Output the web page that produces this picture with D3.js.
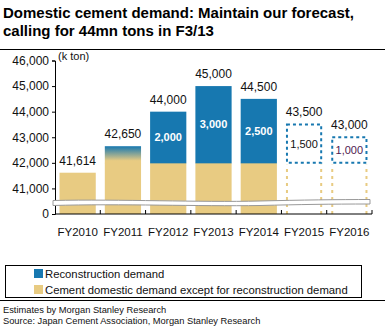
<!DOCTYPE html>
<html>
<head>
<meta charset="utf-8">
<script src="https://cdn.jsdelivr.net/npm/d3@7"></script>
<style>
  body { margin: 0; background: #fff; }
  svg { font-family: "Liberation Sans", Arial, sans-serif; }
</style>
</head>
<body>
<div id="container"></div>
<script>
/* DATA */
const years = ["FY2010", "FY2011", "FY2012", "FY2013", "FY2014", "FY2015", "FY2016"]
const baseDemand = [41614, 42000, 42000, 42000, 42000, 42000, 42000]
const reconDemand = [0, 650, 2000, 3000, 2500, 1500, 1000]
const totals = [41614, 42650, 44000, 45000, 44500, 43500, 43000]
const forecast = [false, false, false, false, false, true, true]
const yTicks = [40000, 41000, 42000, 43000, 44000, 45000, 46000]
const tickLabels = ["0", "41,000", "42,000", "43,000", "44,000", "45,000", "46,000"]

/* CONSTANTS */
const width = 385, height = 328
const blue = "#1778b0", tan = "#e8cb82"

const svg = d3.select("#container").append("svg")
  .attr("width", width).attr("height", height)

// title
svg.append("text").attr("x", 3).attr("y", 18)
  .attr("font-size", 15).attr("font-weight", "bold").attr("fill", "#000")
  .text("Domestic cement demand: Maintain our forecast,")
svg.append("text").attr("x", 3).attr("y", 36)
  .attr("font-size", 15).attr("font-weight", "bold").attr("fill", "#000")
  .text("calling for 44mn tons in F3/13")
svg.append("line").attr("x1", 0).attr("x2", width).attr("y1", 49.5).attr("y2", 49.5)
  .attr("stroke", "#000").attr("stroke-width", 1.2)

// SCALES
const xScale = d3.scaleBand().domain(years).range([55, 372]).paddingInner(0.2).paddingOuter(0.1)
const yScale = d3.scaleLinear().domain([40000, 46000]).range([214, 60.5])

// gradient for FY2011
const defs = svg.append("defs")
const grad = defs.append("linearGradient").attr("id", "fade").attr("x1", 0).attr("x2", 0).attr("y1", 0).attr("y2", 1)
grad.append("stop").attr("offset", "0%").attr("stop-color", blue)
grad.append("stop").attr("offset", "85%").attr("stop-color", tan)

const rows = years.map((y, i) => ({ year: y, base: baseDemand[i], recon: reconDemand[i], total: totals[i], fc: forecast[i] }))
const bw = xScale.bandwidth()

// actual bars
const actual = rows.filter(d => !d.fc)
svg.selectAll("rect.base").data(actual).join("rect")
  .attr("class", "base")
  .attr("x", d => xScale(d.year)).attr("width", bw)
  .attr("y", d => yScale(d.base)).attr("height", d => yScale(40000) - yScale(d.base))
  .attr("fill", tan)
svg.selectAll("rect.recon").data(actual.filter(d => d.recon > 0)).join("rect")
  .attr("class", "recon")
  .attr("x", d => xScale(d.year)).attr("width", bw)
  .attr("y", d => yScale(d.base + d.recon)).attr("height", d => yScale(d.base) - yScale(d.base + d.recon) + 0.5)
  .attr("fill", d => d.year === "FY2011" ? "url(#fade)" : blue)

// forecast bars (dotted)
const fc = rows.filter(d => d.fc)
fc.forEach(d => {
  const x0 = xScale(d.year) + 1, x1 = xScale(d.year) + bw - 1
  ;[x0, x1].forEach(x => {
    svg.append("line").attr("x1", x).attr("x2", x)
      .attr("y1", yScale(40000)).attr("y2", yScale(d.base) + 2)
      .attr("stroke", tan).attr("stroke-width", 2).attr("stroke-dasharray", "3,4")
  })
  svg.append("rect").attr("x", x0).attr("width", x1 - x0)
    .attr("y", yScale(d.base + d.recon)).attr("height", yScale(d.base) - yScale(d.base + d.recon))
    .attr("fill", "none").attr("stroke", blue).attr("stroke-width", 2).attr("stroke-dasharray", "3,3")
})

// inner labels
svg.selectAll("text.inner").data(rows.filter(d => d.recon >= 1000)).join("text")
  .attr("class", "inner")
  .attr("x", d => xScale(d.year) + bw / 2)
  .attr("y", d => yScale(d.base + d.recon / 2) + 4)
  .attr("text-anchor", "middle").attr("font-size", 11)
  .attr("fill", d => d.fc ? (d.recon === 1000 ? "#502050" : "#111") : "#fff")
  .attr("font-weight", d => d.fc ? "normal" : "bold")
  .text(d => d3.format(",")(d.recon))

// totals
svg.selectAll("text.total").data(rows).join("text")
  .attr("class", "total")
  .attr("x", d => xScale(d.year) + bw / 2)
  .attr("y", d => yScale(d.total) - 8)
  .attr("text-anchor", "middle").attr("font-size", 12).attr("fill", "#111")
  .text(d => d3.format(",")(d.total))

// axes
const yAxis = d3.axisLeft(yScale).tickValues(yTicks).tickSize(3).tickFormat((d, i) => tickLabels[i])
svg.append("g").attr("transform", "translate(55,0)").call(yAxis)
  .call(g => g.selectAll("text").attr("font-size", 12).attr("fill", "#111").attr("font-family", null))
  .call(g => g.selectAll("line,path").attr("stroke", "#000"))

svg.append("line").attr("x1", 55).attr("x2", 372).attr("y1", 214).attr("y2", 214).attr("stroke", "#000")
const bounds = years.slice(1).map(y => xScale(y) - xScale.step() * xScale.paddingInner() / 2).concat([372])
svg.selectAll("line.xt").data(bounds).join("line").attr("class", "xt")
  .attr("x1", d => d).attr("x2", d => d).attr("y1", 210).attr("y2", 214).attr("stroke", "#000")
svg.selectAll("text.xl").data(years).join("text").attr("class", "xl")
  .attr("x", d => xScale(d) + bw / 2).attr("y", 236)
  .attr("text-anchor", "middle").attr("font-size", 11.5).attr("fill", "#111")
  .text(d => d)

svg.append("text").attr("x", 58).attr("y", 60).attr("font-size", 11).attr("fill", "#111").text("(k ton)")

// axis break
svg.append("path")
  .attr("d", "M53,200.5 C120,199 200,202.5 260,201 C300,200 340,199.5 370,199.5 L370,204 C330,204 300,204.5 260,205.5 C200,206.5 120,203.5 53,205.5 Z")
  .attr("fill", "#fff").attr("stroke", "#999").attr("stroke-width", 1)

// legend
svg.append("rect").attr("x", 5.5).attr("y", 265.5).attr("width", 356).attr("height", 32)
  .attr("fill", "none").attr("stroke", "#000")
const legendItems = [["Reconstruction demand", blue], ["Cement domestic demand except for reconstruction demand", tan]]
legendItems.forEach(([label, c], i) => {
  svg.append("rect").attr("x", 34).attr("y", 269 + i * 16).attr("width", 9).attr("height", 9).attr("fill", c)
  svg.append("text").attr("x", 45).attr("y", 277.5 + i * 16).attr("font-size", 11.3).attr("fill", "#111").text(label)
})

svg.append("line").attr("x1", 0).attr("x2", width).attr("y1", 300.5).attr("y2", 300.5).attr("stroke", "#000")
svg.append("text").attr("x", 3).attr("y", 313).attr("font-size", 9.3).attr("fill", "#111").text("Estimates by Morgan Stanley Research")
svg.append("text").attr("x", 3).attr("y", 324).attr("font-size", 9.3).attr("fill", "#111").text("Source: Japan Cement Association, Morgan Stanley Research")
</script>
</body>
</html>
